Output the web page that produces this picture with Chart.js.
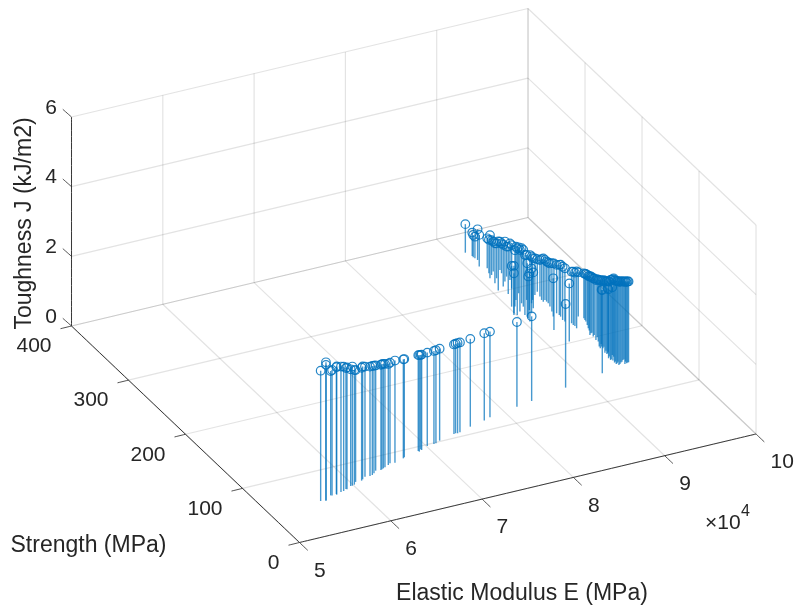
<!DOCTYPE html>
<html>
<head>
<meta charset="utf-8">
<style>
  html, body { margin: 0; padding: 0; background: #fff; }
  canvas { display: block; }
</style>
<script src="https://cdn.jsdelivr.net/npm/chart.js@4"></script>
</head>
<body>
<canvas id="stemChart" width="796" height="611"></canvas>
<script>
// Elastic modulus (MPa)
const modulus = [
  55683,56151,56243,57081,57198,57701,57669,58295,58620,59010,59066,59694,59871,60139,60501,61150,
  61361,61811,62311,62607,62907,63299,63828,63977,64186,64424,64932,65231,65731,66861,67041,68851,
  68878,69209,69235,70100,70869,71106,71673,73543,73751,73927,74223,75651,77431,78235,
  81581,83394,87599,
  91264,91570,91535,91589,91669,91200,91746,91431,91058,91511,91034,90650,92541,92064,91218,92656,
  89777,90634,90069,90611,91525,90741,90791,90564,91582,92797,93462,93746,93577,93877,93869,93700,
  91897,93069,93669,93711,93630,92165,94060,94106,94037,95602,95470,95059,94590,94980,94728,94655,
  95017,94332,94753,92134,94740,94547,94447,94285,94094,94701,94664,94349,94370,94363,94754,95175,
  94981,95188,95456,
  95536,95279,94932,94832,94970,94705,94265,94499,94274,94326,94073,94214,94237,94199,94222,94583,
  94543,94933,95323,95254,95338,
  91965,91642,92702,91457,92671,92033,91337,92185,91364,92271,91479,93974,93585,93861,93414,93749,
  93580,94053,95259,
  90342,89931,92401,92086,90726,94659,94536
];

// Strength (MPa)
const strength = [
  53.9,52.1,53.5,58.7,58.2,58.7,57.6,60.1,60.6,62.8,61.9,65.5,65.4,66.2,69.8,69.6,
  71.2,74.3,73.5,74.2,76.1,79.4,78.6,79.2,80.1,81.1,83.4,85.2,84.5,87.9,89.1,93.6,
  92.2,95.1,93.8,97.8,98.4,98.7,101.3,106.1,106.6,105.9,106.5,111.2,115.2,118.1,
  124.4,127.6,135.4,
  370,362.8,360.5,358.4,355,344.6,339.3,331.3,323.5,327.9,314.4,302.4,326.9,313.4,294,314.1,
  260.9,272.9,259.8,263.8,275.5,257.1,253.8,245.5,262.9,276.6,283.2,278.9,270.3,272.2,269.2,260.6,
  224.7,244.7,248.4,242.1,233.2,202.1,228.4,223.3,219.2,231.5,225.9,215.1,204.7,207.4,201.1,195.2,
  198.7,184.2,187.5,143.7,182.5,175.9,171.4,165.9,160.5,167.3,164.3,156.4,153.3,150.2,153,156.2,
  149.6,150,150.8,
  228.6,220.4,211.4,206.8,203.2,191.9,181.3,180.4,173.3,170.7,163.7,161.3,158.7,155.2,152.6,155.4,
  151.3,154,156.8,152.7,150.6,
  332.3,321.2,332.3,306.6,320.2,301.1,282.4,291.3,269.9,278.7,257.2,287.2,273.4,266.2,252.6,245,
  236.4,225.3,235.9,
  274,263.4,272,264,251,173.6,183.4
];

// Toughness J (kJ/m2)
const toughness = [
  3.74,3.98,3.88,3.57,3.60,3.64,3.68,3.60,3.57,3.47,3.50,3.35,3.42,3.29,3.21,3.24,
  3.24,3.16,3.14,3.13,3.09,3.02,3.02,3.02,3.00,2.97,2.90,2.89,2.93,2.84,2.82,2.75,
  2.77,2.71,2.74,2.68,2.67,2.67,2.64,2.57,2.57,2.59,2.58,2.52,2.51,2.46,
  2.43,2.43,2.40,
  0.82,0.67,0.64,0.62,0.88,0.91,0.86,0.96,1.24,1.00,1.15,1.41,0.86,1.15,1.36,1.05,
  1.41,1.62,1.91,1.77,1.58,1.72,1.53,1.91,1.05,1.20,1.05,1.05,1.24,1.15,1.15,1.24,
  1.91,1.10,1.39,1.49,1.53,1.67,1.48,1.53,1.63,1.29,1.37,1.50,1.67,1.59,1.67,1.72,
  1.67,1.91,1.82,2.39,1.91,1.98,1.87,2.15,2.30,1.94,2.25,2.33,2.36,2.39,2.33,2.25,
  2.36,2.33,2.32,
  1.32,1.44,1.57,1.63,1.62,1.77,1.96,1.94,2.06,2.09,2.21,2.28,2.34,2.37,2.38,2.31,
  2.36,2.31,2.23,2.31,2.33,
  0.86,1.00,0.81,1.20,0.86,1.24,1.53,1.32,1.63,1.29,1.63,0.93,1.17,1.17,1.39,1.44,
  1.53,1.53,1.27,
  1.17,1.15,1.00,1.03,1.20,1.79,1.63
];

const modulusTicks = [50000, 60000, 70000, 80000, 90000, 100000];
const modulusTickLabels = ['5', '6', '7', '8', '9', '10'];
const strengthTicks = [0, 100, 200, 300, 400];
const toughnessTicks = [0, 2, 4, 6];

const STEM = 'rgba(0,114,189,0.72)';
const RING = 'rgba(0,114,189,0.85)';
const DARK = '#262626';
const GRID = 'rgba(38,38,38,0.13)';
const FONT = '"Liberation Sans", Arial, sans-serif';

// 3D view of the MATLAB axes flattened to the plane of the chart
function project(e, s, j) {
    const u = (e - 50000) / 50000;
    const v = s / 400;
    const w = j / 6;
    return {
        x: 299.5 + 456.5 * u - 228 * v,
        y: 542.5 - 108.5 * u - 216.5 * v - 209 * w
    };
}

// tension keeps chart.js off its fast path, which rounds vertical lines to whole pixels
function lineSet(a, b, color, order, width) {
    return {
        data: [project(a[0], a[1], a[2]), project(b[0], b[1], b[2])],
        showLine: true,
        tension: 0.001,
        borderColor: color,
        borderWidth: width || 1,
        pointRadius: 0,
        order: order
    };
}

// offset in plane coordinates, used for the tick marks
function tickSet(a, dx, dy) {
    const p = project(a[0], a[1], a[2]);
    return {
        data: [p, { x: p.x + dx, y: p.y + dy }],
        showLine: true,
        tension: 0.001,
        borderColor: DARK,
        borderWidth: 0.8,
        pointRadius: 0,
        order: 2
    };
}

const datasets = [];

// floor and the two back walls
modulusTicks.forEach(e => {
    datasets.push(lineSet([e, 0, 0], [e, 400, 0], GRID, 5, 1.2));
    datasets.push(lineSet([e, 400, 0], [e, 400, 6], GRID, 5, 1.2));
});
strengthTicks.forEach(s => {
    datasets.push(lineSet([50000, s, 0], [100000, s, 0], GRID, 5, 1.2));
    datasets.push(lineSet([100000, s, 0], [100000, s, 6], GRID, 5, 1.2));
});
toughnessTicks.forEach(j => {
    datasets.push(lineSet([50000, 400, j], [100000, 400, j], GRID, 5, 1.2));
    datasets.push(lineSet([100000, 400, j], [100000, 0, j], GRID, 5, 1.2));
});

// the three visible axes
datasets.push(lineSet([50000, 400, 0], [50000, 400, 6], DARK, 2, 0.9));
datasets.push(lineSet([50000, 0, 0], [50000, 400, 0], DARK, 2, 0.9));
datasets.push(lineSet([50000, 0, 0], [100000, 0, 0], DARK, 2, 0.9));
modulusTicks.forEach(e => datasets.push(tickSet([e, 0, 0], 8.3, 7.9)));
strengthTicks.forEach(s => datasets.push(tickSet([50000, s, 0], -11, 2.7)));
toughnessTicks.forEach(j => datasets.push(tickSet([50000, 400, j], -8.7, -7.7)));

// stems
modulus.forEach((e, i) => {
    datasets.push(lineSet([e, strength[i], 0], [e, strength[i], toughness[i]], STEM, 1, 1.4));
});

// circles on top of the stems
datasets.push({
    data: modulus.map((e, i) => project(e, strength[i], toughness[i])),
    showLine: false,
    pointStyle: 'circle',
    pointRadius: 4.3,
    pointBorderWidth: 1.2,
    pointBorderColor: RING,
    pointBackgroundColor: 'rgba(0,0,0,0)',
    order: 0
});

function put(ctx, text, x, y, align, size) {
    ctx.font = (size || 21) + 'px ' + FONT;
    ctx.textAlign = align || 'center';
    ctx.textBaseline = 'middle';
    ctx.fillText(text, x, y);
}

const axisText = {
    id: 'axisText',
    afterDraw(chart) {
        const ctx = chart.ctx;
        const sx = chart.scales.x;
        const sy = chart.scales.y;
        ctx.save();
        ctx.fillStyle = DARK;

        toughnessTicks.forEach(j => {
            const p = project(50000, 400, j);
            put(ctx, String(j), sx.getPixelForValue(p.x) - 14.5, sy.getPixelForValue(p.y) - 9, 'right');
        });
        strengthTicks.forEach(s => {
            const p = project(50000, s, 0);
            put(ctx, String(s), sx.getPixelForValue(p.x) - 20, sy.getPixelForValue(p.y) + 20.5, 'right');
        });
        modulusTicks.forEach((e, i) => {
            const p = project(e, 0, 0);
            put(ctx, modulusTickLabels[i], sx.getPixelForValue(p.x) + 14.5, sy.getPixelForValue(p.y) + 28.5, 'left');
        });

        put(ctx, '\u00d710', 705, 523, 'left');
        put(ctx, '4', 741, 512, 'left', 16);

        put(ctx, 'Elastic Modulus E (MPa)', 522, 593.5, 'center', 23);
        put(ctx, 'Strength (MPa)', 88.5, 545.5, 'center', 23);

        ctx.translate(25, 223.5);
        ctx.rotate(-Math.PI / 2);
        put(ctx, 'Toughness J (kJ/m2)', 0, 0, 'center', 23);
        ctx.restore();
    }
};

new Chart(document.getElementById('stemChart').getContext('2d'), {
    type: 'scatter',
    data: { datasets },
    options: {
        responsive: false,
        animation: false,
        layout: { padding: 0, autoPadding: false },
        plugins: { legend: { display: false }, tooltip: { enabled: false }, title: { display: false } },
        scales: {
            x: { type: 'linear', min: 0, max: 796, display: false },
            y: { type: 'linear', min: 0, max: 611, reverse: true, display: false }
        }
    },
    plugins: [axisText]
});
</script>
</body>
</html>
